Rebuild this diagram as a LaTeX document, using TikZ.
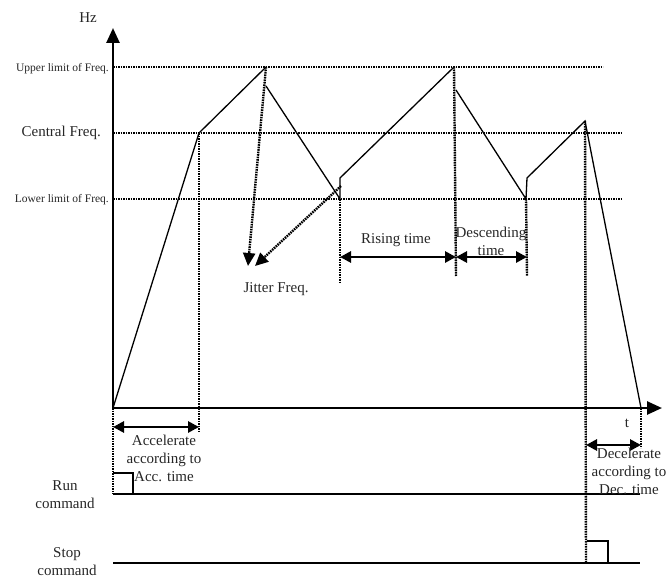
\documentclass[tikz,border=0pt]{standalone}
\usepackage{fontspec}
\setmainfont{Liberation Serif}
\usetikzlibrary{arrows.meta}
\begin{document}
\begin{tikzpicture}[x=1pt,y=-1pt,
  txt/.style={inner sep=0pt,text=black!85,font=\fontsize{15}{18}\selectfont,align=center},
  small/.style={inner sep=0pt,text=black!85,font=\fontsize{11.5}{14}\selectfont},
  axis/.style={line width=2.6pt,-{Triangle[length=15pt,width=13pt]}},
  wave/.style={line width=1.3pt},
  guide/.style={line width=2.4pt,dash pattern=on 1.6pt off 0.9pt},
  dim/.style={line width=2.8pt,{Triangle[length=11pt,width=11pt]}-{Triangle[length=11pt,width=11pt]}},
  jit/.style={line width=2.4pt,dash pattern=on 1.6pt off 0.9pt,-{Triangle[length=13pt,width=12pt]}},
  cmd/.style={line width=1.2pt}]
\useasboundingbox (0,0) rectangle (667,578);
% coordinates
\coordinate (O) at (113,408);
\coordinate (Ytop) at (113,28);
\coordinate (Xend) at (662,408);
\coordinate (UL0) at (113,67); \coordinate (UL1) at (603,67);
\coordinate (CL0) at (113,133); \coordinate (CL1) at (622,133);
\coordinate (LL0) at (113,199); \coordinate (LL1) at (622,199);
\coordinate (A1) at (199,133);
\coordinate (P1) at (266,67);
\coordinate (P1b) at (266,86);
\coordinate (L1) at (340,199);
\coordinate (L1b) at (340,178);
\coordinate (P2) at (454,67);
\coordinate (P2b) at (456,90);
\coordinate (L2) at (526,199);
\coordinate (L2b) at (527,178);
\coordinate (P3) at (585,121);
\coordinate (E) at (641,408);
\coordinate (J1) at (248,266);
\coordinate (J2s) at (341,186);
\coordinate (J2) at (255,266);
% guides
\draw[guide] (UL0) -- (UL1);
\draw[guide] (CL0) -- (CL1);
\draw[guide] (LL0) -- (LL1);
\coordinate (A1d) at (199,431);
\draw[guide] (A1) -- (A1d);
\coordinate (Od) at (113,494);
\draw[guide] (O) -- (Od);
\coordinate (L1d) at (340,282);
\draw[guide] (L1) -- (L1d);
\coordinate (P2d) at (456,276);
\draw[guide] (P2) -- (P2d);
\coordinate (L2d) at (527,276);
\draw[guide] (L2) -- (L2d);
\coordinate (P3d) at (586,563);
\draw[guide] (P3) -- (P3d);
\coordinate (Ed) at (641,448);
\draw[guide] (E) -- (Ed);
% axes
\draw[axis] (O) -- (Ytop);
\draw[axis] (O) -- (Xend);
% waveform
\draw[wave] (O) -- (A1) -- (P1);
\draw[wave] (P1b) -- (L1) -- (L1b) -- (P2);
\draw[wave] (P2b) -- (L2) -- (L2b) -- (P3) -- (E);
% jitter arrows
\draw[jit] (P1) -- (J1);
\draw[jit] (J2s) -- (J2);
% dimension arrows
\coordinate (R0) at (340,257); \coordinate (R1) at (456,257);
\coordinate (D0) at (456,257); \coordinate (D1) at (527,257);
\coordinate (Ac0) at (113,427); \coordinate (Ac1) at (199,427);
\coordinate (De0) at (586,445); \coordinate (De1) at (641,445);
\draw[dim] (R0) -- (R1);
\draw[dim] (D0) -- (D1);
\draw[dim] (Ac0) -- (Ac1);
\draw[dim] (De0) -- (De1);
% command lines
\coordinate (Run0) at (113,494); \coordinate (Run1) at (640,494);
\coordinate (Stop0) at (113,563); \coordinate (Stop1) at (640,563);
\draw[cmd] (Run0) -- (Run1);
\draw[cmd] (Stop0) -- (Stop1);
\coordinate (RunA) at (113,473); \coordinate (RunB) at (133,473); \coordinate (RunC) at (133,494);
\draw[cmd] (RunA) -- (RunB) -- (RunC);
\coordinate (StA) at (587,541); \coordinate (StB) at (608,541); \coordinate (StC) at (608,563);
\draw[cmd] (StA) -- (StB) -- (StC);
% labels
\node[txt] (hz) at (88,18) {Hz};
\node[small,anchor=east] (up) at (109,69) {Upper limit of Freq.};
\node[txt,anchor=east] (cf) at (101,133) {Central Freq.};
\node[small,anchor=east] (lo) at (109,200) {Lower limit of Freq.};
\node[txt] (jf) at (276,289) {Jitter Freq.};
\node[txt] (rt) at (396,240) {Rising time};
\node[txt] (dt) at (491,241) {Descending\\time};
\node[txt] (acc) at (164,458) {Accelerate\\according to\\Acc. time};
\node[txt] (dec) at (629,471) {Decelerate\\according to\\Dec. time};
\node[txt] (tt) at (627,423) {t};
\node[txt] (run) at (65,495) {Run\\command};
\node[txt] (stop) at (67,562) {Stop\\command};
\end{tikzpicture}
\end{document}
